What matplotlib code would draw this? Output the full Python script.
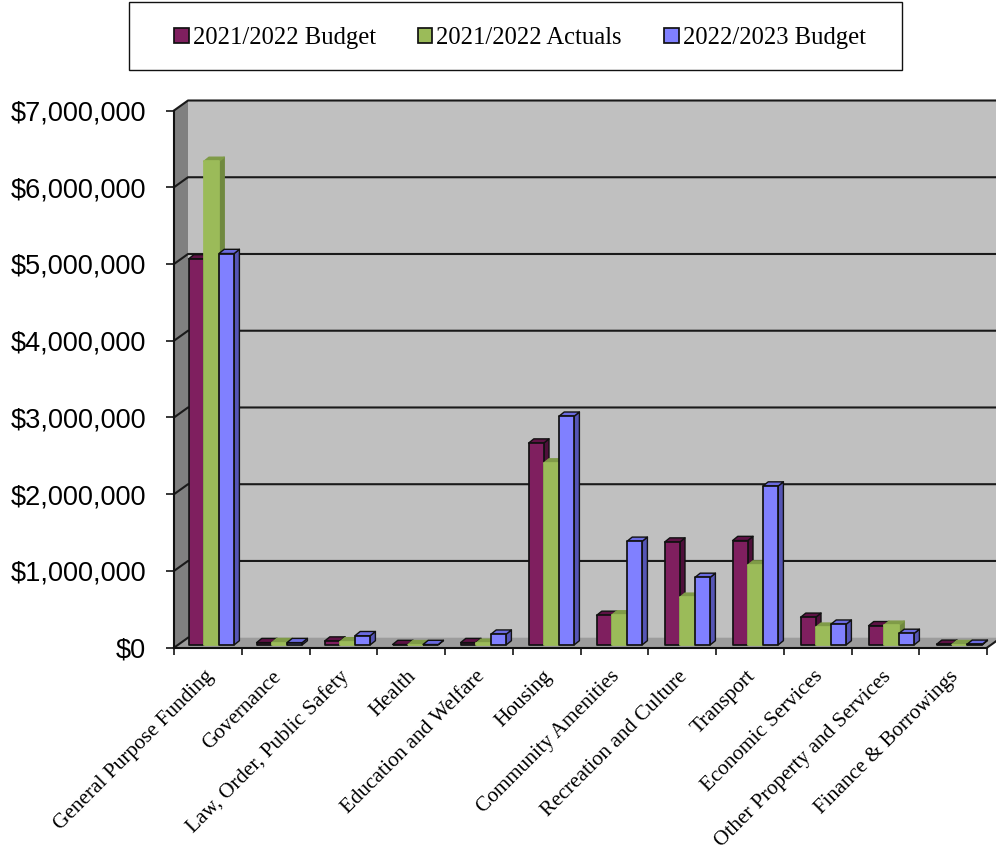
import matplotlib
matplotlib.use("Agg")
import matplotlib.pyplot as plt
from matplotlib.patches import Patch, Rectangle
from matplotlib.ticker import FuncFormatter
from matplotlib.transforms import ScaledTranslation

categories = ["General Purpose Funding", "Governance", "Law, Order, Public Safety", "Health",
              "Education and Welfare", "Housing", "Community Amenities", "Recreation and Culture",
              "Transport", "Economic Services", "Other Property and Services", "Finance & Borrowings"]
budget_2122 = [5030000, 30000, 50000, 5000, 30000, 2630000, 385000, 1340000, 1360000, 360000, 250000, 8000]
actuals_2122 = [6300000, 30000, 40000, 2000, 20000, 2370000, 390000, 620000, 1040000, 230000, 255000, 3000]
budget_2223 = [5100000, 30000, 120000, 5000, 140000, 2980000, 1350000, 880000, 2070000, 270000, 150000, 8000]
series_names = ["2021/2022 Budget", "2021/2022 Actuals", "2022/2023 Budget"]
y_ticks = [0, 1000000, 2000000, 3000000, 4000000, 5000000, 6000000, 7000000]

W, H = 996, 850
LEFT, RIGHT, TOP, BOTTOM = 174, 987, 110.5, 647.7
fig = plt.figure(figsize=(W / 100, H / 100), dpi=100, facecolor="white")
ax = fig.add_axes([LEFT / W, 1 - BOTTOM / H, (RIGHT - LEFT) / W, (BOTTOM - TOP) / H])
ax.set_xlim(0, len(categories))
ax.set_ylim(0, y_ticks[-1])
ax.patch.set_visible(False)

# data units per pixel, used for the oblique depth of the fake 3-D box
ux = len(categories) / (RIGHT - LEFT)
uy = y_ticks[-1] / (BOTTOM - TOP)
wall_dx, wall_dy = 14 * ux, 10 * uy
bar_dx, bar_dy = 5.2 * ux, 4.2 * uy
base_dy = 2.8 * uy
bar_w = 15.2 * ux
bar_start = 14.6 * ux
group_step = 68 * ux

n = len(categories)
ymax = y_ticks[-1]
far = n + 1.0

# box walls
ax.fill([0, wall_dx, wall_dx, 0], [0, wall_dy, ymax + wall_dy, ymax], color="#808080", lw=0, clip_on=False, zorder=1)
ax.fill([wall_dx, far, far, wall_dx], [wall_dy, wall_dy, ymax + wall_dy, ymax + wall_dy],
        color="#c0c0c0", lw=0, clip_on=False, zorder=1)
ax.fill([0, n, n + wall_dx, wall_dx], [0, 0, wall_dy, wall_dy], color="#9c9c9c", lw=0, clip_on=False, zorder=1)

# gridlines wrap from the side wall onto the back wall
for v in y_ticks:
    xs = [0, wall_dx, far] if v else [0, wall_dx]
    ys = [v, v + wall_dy, v + wall_dy] if v else [0, wall_dy]
    ax.plot(xs, ys, color="#1a1a1a", lw=1.5, clip_on=False, zorder=2)
ax.plot([n, n + wall_dx], [0, wall_dy], color="#1a1a1a", lw=1.5, clip_on=False, zorder=2)

styles = [
    {"front": "#7f1f5f", "side": "#4e0f3a", "top": "#5e1245", "edge": "#111111"},
    {"front": "#9bbb59", "side": "#70893f", "top": "#7f9b47", "edge": "#9bbb59"},
    {"front": "#8080ff", "side": "#5555b5", "top": "#6b6be0", "edge": "#111111"},
]
series = [budget_2122, actuals_2122, budget_2223]

z = 3
for i in range(n):
    for s, (values, st) in enumerate(zip(series, styles)):
        x0 = i * group_step + bar_start + s * bar_w
        x1 = x0 + bar_w
        y0 = base_dy
        y1 = values[i] + base_dy
        ax.fill([x1, x1 + bar_dx, x1 + bar_dx, x1], [y0, y0 + bar_dy, y1 + bar_dy, y1],
                facecolor=st["side"], edgecolor=st["edge"] if s != 1 else st["side"], lw=1.0,
                clip_on=False, zorder=z, joinstyle="round")
        ax.fill([x0, x0 + bar_dx, x1 + bar_dx, x1], [y1, y1 + bar_dy, y1 + bar_dy, y1],
                facecolor=st["top"], edgecolor=st["edge"] if s != 1 else st["top"], lw=1.0,
                clip_on=False, zorder=z, joinstyle="round")
        ax.fill([x0, x1, x1, x0], [y0, y0, y1, y1],
                facecolor=st["front"], edgecolor=st["edge"], lw=1.25,
                clip_on=False, zorder=z + 0.5, joinstyle="round")
        z += 1

for side in ("top", "right"):
    ax.spines[side].set_visible(False)
for side in ("left", "bottom"):
    ax.spines[side].set_linewidth(1.5)
    ax.spines[side].set_color("#111111")
    ax.spines[side].set_zorder(200)

ax.set_yticks(y_ticks)
ax.yaxis.set_major_formatter(FuncFormatter(lambda v, _: f"${v:,.0f}"))
ax.tick_params(axis="y", length=5.5, width=1.1, pad=14.5, labelsize=19.5)
for lab in ax.get_yticklabels():
    lab.set_fontfamily("Liberation Sans")

ax.set_xticks(range(n + 1))
ax.set_xticklabels([])
ax.tick_params(axis="x", which="major", length=5, width=1.1)
ax.set_xticks([i + 0.5 for i in range(n)], minor=True)
ax.set_xticklabels(categories, minor=True, rotation=45, ha="right", va="top",
                   rotation_mode="anchor", family="Liberation Serif", fontsize=15.3)
ax.tick_params(axis="x", which="minor", length=0, pad=14)
label_shift = ScaledTranslation(-4 / 100, 0, fig.dpi_scale_trans)
for lab in ax.get_xticklabels(minor=True):
    lab.set_transform(lab.get_transform() + label_shift)

# legend frame is a fixed box; entries sit frameless inside it
fig.add_artist(Rectangle((129 / W, 1 - 70 / H), 773 / W, 68 / H, transform=fig.transFigure,
                         facecolor="white", edgecolor="#111111", lw=1.0))
handles = [Patch(facecolor=st["front"], edgecolor="#111111", lw=1.25) for st in styles]
leg = fig.legend(handles, series_names, ncols=3, loc="center",
                 bbox_to_anchor=(520 / W, 1 - 38 / H),
                 prop={"family": "Liberation Serif", "size": 17.75},
                 frameon=False, handlelength=0.58, handleheight=0.58, handletextpad=0.16,
                 columnspacing=1.72, borderpad=0, borderaxespad=0)

fig.savefig("out.png", dpi=100)
